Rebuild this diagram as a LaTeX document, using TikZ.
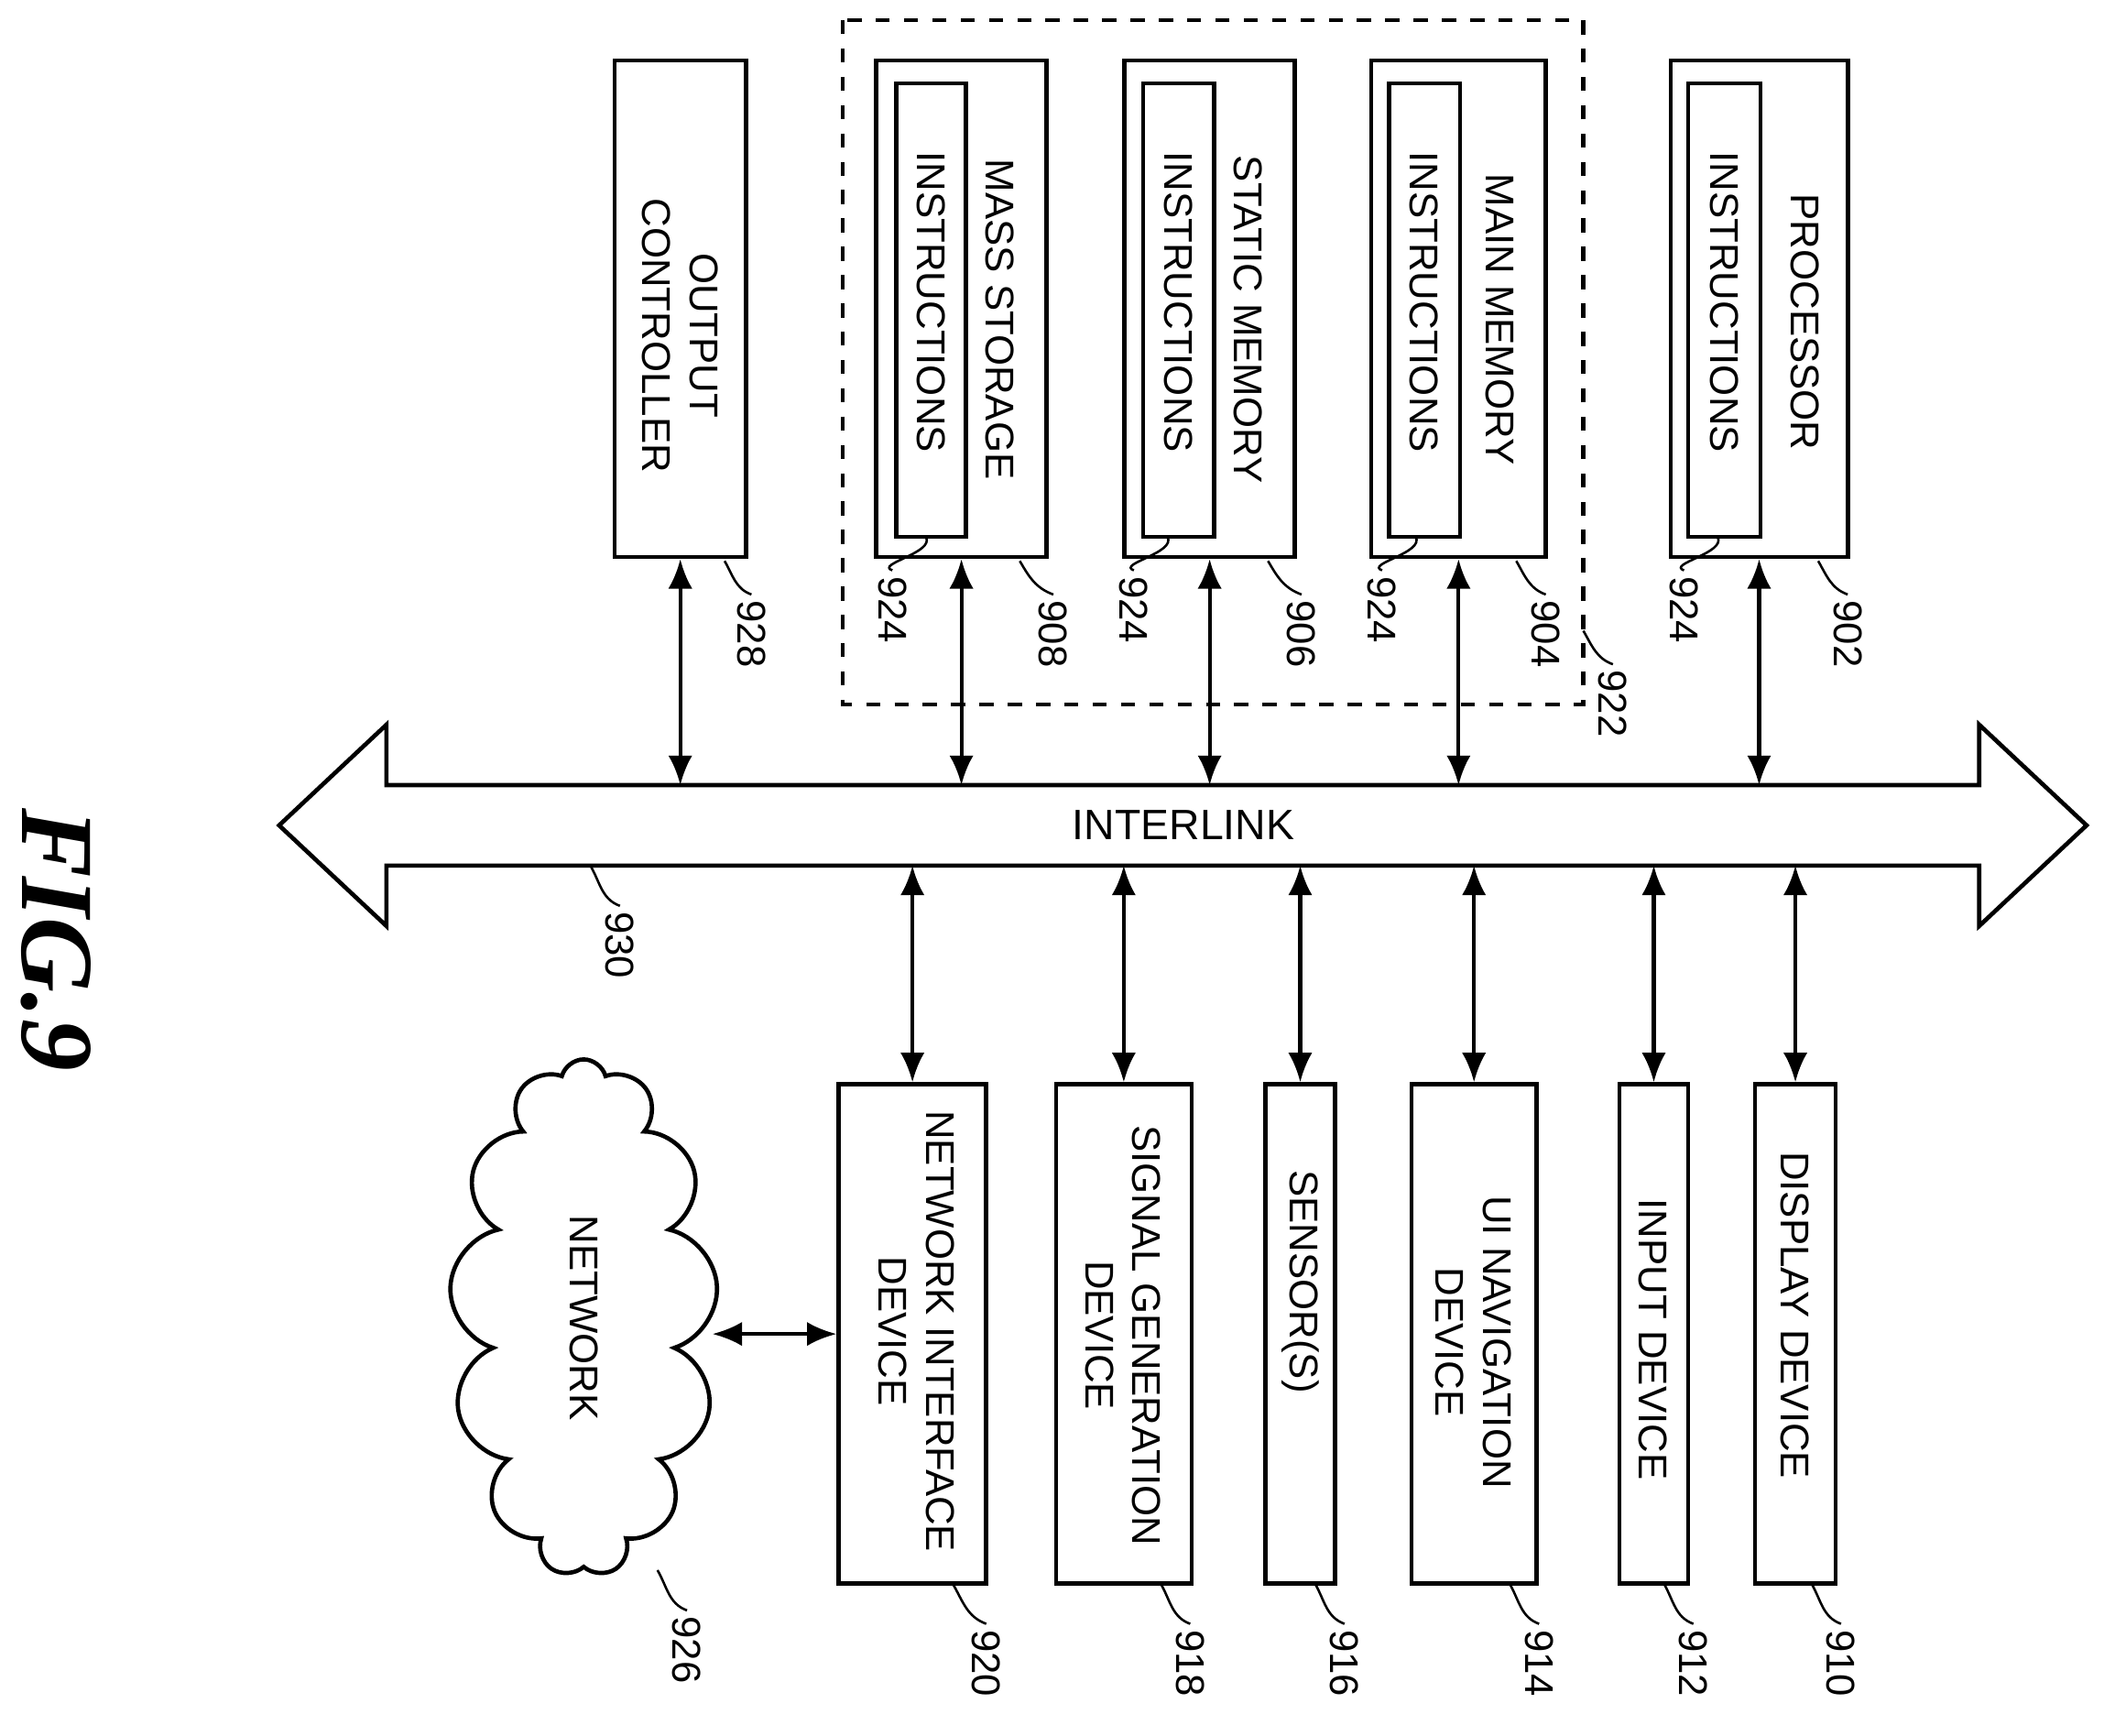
\documentclass[tikz,border=0pt]{standalone}
\usepackage{fontspec}
\setmainfont{Liberation Sans}
\newfontfamily\figfont{Liberation Serif}
\usetikzlibrary{arrows.meta,fit,shapes.symbols,calc}
\tikzset{
    box/.style = {draw, rectangle, inner sep=0pt, line width=0.9pt},
    txt/.style = {rotate=-90, align=center, font=\fontsize{8.5}{10}\selectfont, inner sep=0pt},
    ref/.style = {rotate=-90, anchor=west, font=\fontsize{8.5}{10}\selectfont, inner sep=1pt},
    link/.style = {draw, {Latex[length=2.2mm,width=1.8mm]}-{Latex[length=2.2mm,width=1.8mm]}, line width=0.8pt}
}
\newcommand{\refmark}[3]{\draw[line width=0.5pt] (#1) to[out=-60,in=160] ($(#1)+(#2)$) node[ref] {#3};}
\begin{document}
\begin{tikzpicture}[x=0.01cm, y=-0.01cm]
    \useasboundingbox (0,0) rectangle (1568,1293);
    % upper boxes
    \node [box, fit={(458,45)(556,415)}] (oc) {};
    \node [box, fit={(653,45)(780,415)}] (ms) {};
    \node [box, fit={(668,62)(720,400)}] (msi) {};
    \node [box, fit={(838,45)(965,415)}] (sm) {};
    \node [box, fit={(852,62)(905,400)}] (smi) {};
    \node [box, fit={(1022,45)(1152,415)}] (mm) {};
    \node [box, fit={(1035,62)(1088,400)}] (mmi) {};
    \node [box, fit={(1245,45)(1377,415)}] (pr) {};
    \node [box, fit={(1258,62)(1312,400)}] (pri) {};
    \draw [dashed, line width=0.9pt] (628,15) rectangle (1180,525);
    \node [txt] (oct) at (507,250) {OUTPUT\\CONTROLLER};
    \node [txt] (mst) at (745,238) {MASS STORAGE};
    \node [txt] (msit) at (694,225) {INSTRUCTIONS};
    \node [txt] (smt) at (930,238) {STATIC MEMORY};
    \node [txt] (smit) at (878,225) {INSTRUCTIONS};
    \node [txt] (mmt) at (1118,238) {MAIN MEMORY};
    \node [txt] (mmit) at (1061,225) {INSTRUCTIONS};
    \node [txt] (prt) at (1345,240) {PROCESSOR};
    \node [txt] (prit) at (1285,225) {INSTRUCTIONS};
    % interlink
    \draw [line width=0.9pt] (208,615) -- (288,540) -- (288,585) -- (1475,585) -- (1475,540)
        -- (1555,615) -- (1475,690) -- (1475,645) -- (288,645) -- (288,690) -- cycle;
    \coordinate (busT) at (0,585);
    \coordinate (busB) at (0,645);
    \node [font=\fontsize{9}{10}\selectfont] (il) at (882,615) {INTERLINK};
    \foreach \b in {oc,ms,sm,mm,pr}{
        \draw [link] (\b.south) -- (\b.south |- busT);
    }
    % lower boxes
    \node [box, fit={(625,808)(735,1180)}] (nid) {};
    \node [box, fit={(787,808)(888,1180)}] (sgd) {};
    \node [box, fit={(943,808)(995,1180)}] (sen) {};
    \node [box, fit={(1052,808)(1145,1180)}] (uid) {};
    \node [box, fit={(1207,808)(1258,1180)}] (ind) {};
    \node [box, fit={(1308,808)(1368,1180)}] (dsd) {};
    \node [txt] (nidt) at (683,992) {NETWORK INTERFACE\\DEVICE};
    \node [txt] (sgdt) at (837,995) {SIGNAL GENERATION\\DEVICE};
    \node [txt] (sent) at (969,955) {SENSOR(S)};
    \node [txt] (uidt) at (1098,1000) {UI NAVIGATION\\DEVICE};
    \node [txt] (indt) at (1232,998) {INPUT DEVICE};
    \node [txt] (dsdt) at (1338,980) {DISPLAY DEVICE};
    \foreach \b in {nid,sgd,sen,uid,ind,dsd}{
        \draw [link] (\b.north |- busB) -- (\b.north);
    }
    % network
    \node [draw, cloud, cloud puffs=13, aspect=0.5, line width=0.9pt, inner sep=0pt,
        minimum width=2cm, minimum height=3.85cm] (net) at (435,982) {};
    \node [txt] (nett) at (435,982) {NETWORK};
    \draw [link] (net.east |- nid.west) -- (nid.west);
    % reference numerals
    \refmark{540,418}{20,25}{928}
    \refmark{760,418}{25,25}{908}
    \refmark{945,418}{25,25}{906}
    \refmark{1130,418}{22,25}{904}
    \refmark{1180,470}{22,25}{922}
    \refmark{1355,418}{22,25}{902}
    \refmark{690,400}{-25,25}{924}
    \refmark{870,400}{-25,25}{924}
    \refmark{1055,400}{-25,25}{924}
    \refmark{1280,400}{-25,25}{924}
    \refmark{440,645}{22,30}{930}
    \refmark{710,1180}{25,30}{920}
    \refmark{865,1180}{22,30}{918}
    \refmark{980,1180}{22,30}{916}
    \refmark{1125,1180}{22,30}{914}
    \refmark{1240,1180}{22,30}{912}
    \refmark{1350,1180}{22,30}{910}
    \refmark{490,1170}{22,30}{926}
    \node [rotate=-90, font=\figfont\bfseries\itshape\fontsize{22}{24}\selectfont] (fig) at (42,700) {FIG.9};
\end{tikzpicture}
\end{document}
